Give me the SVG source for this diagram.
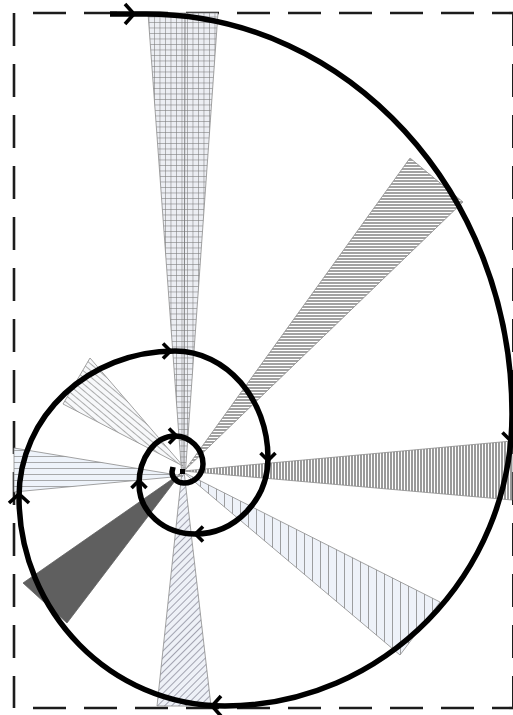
<svg xmlns="http://www.w3.org/2000/svg" width="513" height="715" viewBox="0 0 513 715">
<style>
.frame{fill:none;stroke:#1c1c1c;stroke-width:2.6;stroke-dasharray:33 18}
.edge{stroke:#8c8c8c;stroke-width:0.8;stroke-linejoin:miter}
.spiral{fill:none;stroke:#000;stroke-width:5.5;stroke-linecap:butt;stroke-linejoin:round}
.arr{fill:none;stroke:#000;stroke-width:3.6;stroke-linejoin:miter;stroke-linecap:butt}
</style>
<defs>
<pattern id="grid" width="5.5" height="5.5" patternUnits="userSpaceOnUse">
<rect width="5.5" height="5.5" fill="#eceef3"/>
<path d="M0 0.3H5.5M0.3 0V5.5" stroke="#777" stroke-width="0.65"/>
</pattern>
<pattern id="hstripe" width="6" height="3" patternUnits="userSpaceOnUse">
<rect width="6" height="3" fill="#ffffff"/>
<rect width="6" height="2" fill="#a2a2a2"/>
</pattern>
<pattern id="vstripe" width="3" height="6" patternUnits="userSpaceOnUse">
<rect width="3" height="6" fill="#ffffff"/>
<rect width="2" height="6" fill="#9a9a9a"/>
</pattern>
<pattern id="vline" width="8" height="8" patternUnits="userSpaceOnUse">
<rect width="8" height="8" fill="#eef2f9"/>
<path d="M0.4 0V8" stroke="#7a7a7a" stroke-width="0.8"/>
</pattern>
<pattern id="hline" width="8" height="6" patternUnits="userSpaceOnUse">
<rect width="8" height="6" fill="#eef3fa"/>
<path d="M0 0.4H8" stroke="#8a8a8a" stroke-width="0.8"/>
</pattern>
<pattern id="diag" width="5" height="5" patternUnits="userSpaceOnUse" patternTransform="rotate(-45)">
<rect width="5" height="5" fill="#eef1f7"/>
<path d="M0 0.4H5" stroke="#7e7e8e" stroke-width="0.75"/>
</pattern>
<pattern id="diag2" width="5" height="5" patternUnits="userSpaceOnUse" patternTransform="rotate(40)">
<rect width="5" height="5" fill="#f7f8fa"/>
<path d="M0 0.4H5" stroke="#858585" stroke-width="0.75"/>
</pattern>
<path id="chev" d="M-8,-10 L1,0 L-8,10"/>
<path id="chevS" d="M-7,-7.5 L0.5,0 L-7,7.5"/>
</defs>

<g id="frame">
<path class="frame" d="M33,13 H513"/>
<path class="frame" d="M33,708 H513"/>
<path class="frame" d="M14,13 V708"/>
<path class="frame" d="M513.3,13 V708"/>
</g>

<g id="wedges">
<g id="wedge-top"><polygon class="edge" fill="url(#grid)" points="148,13 218,13 185.5,471 181.5,471"/><line x1="185" y1="13" x2="184" y2="471" stroke="#777" stroke-width="0.9"/></g>
<g id="wedge-upper-right"><polygon class="edge" fill="url(#hstripe)" points="410,158 463,202 185,470"/></g>
<g id="wedge-right"><polygon class="edge" fill="url(#vstripe)" points="512,441 512,500 183,471"/></g>
<g id="wedge-lower-right"><polygon class="edge" fill="url(#vline)" points="440,602 400,655 183,472"/></g>
<g id="wedge-bottom"><polygon class="edge" fill="url(#diag)" points="157,706 211,706 184,471 182,471"/></g>
<g id="wedge-lower-left"><polygon fill="#5f5f5f" stroke="#5f5f5f" stroke-width="0.8" points="23,583 67,623 181,473"/></g>
<g id="wedge-left"><polygon class="edge" fill="url(#hline)" points="14,448 14,492 183,476"/></g>
<g id="wedge-upper-left"><polygon class="edge" fill="url(#diag2)" points="90,358 63,404 183,466"/></g>
</g>

<g id="center"><rect x="180" y="469" width="5" height="5" fill="#000"/></g>

<g id="connectors">
<path class="spiral" d="M110,14 L146,14 C348,14 512,193 512,414 C512,575 383,706 225,706 C111,706 19,612 19,497 C19,416 89,351 175,351 C226,351 268,399 268,458 C268,500 235,534 195,534 C164,534 139,512 139,484 C139,458 155,436 175,436 C190,436 203,449 203,464 C203,474.5 194.5,483 184,483 C177,483 172,478 172,472 L173,467"/>
<use href="#chev" class="arr" transform="translate(133,14)"/>
<use href="#chev" class="arr" transform="translate(512,441) rotate(93)"/>
<use href="#chev" class="arr" transform="translate(213,706) rotate(180)"/>
<use href="#chev" class="arr" transform="translate(19,495) rotate(-90)"/>
<use href="#chevS" class="arr" transform="translate(170,351)"/>
<use href="#chevS" class="arr" transform="translate(268,460) rotate(90)"/>
<use href="#chevS" class="arr" transform="translate(196,534) rotate(180)"/>
<use href="#chevS" class="arr" transform="translate(139,481) rotate(-90)"/>
<use href="#chevS" class="arr" transform="translate(176,436)"/>
</g>
</svg>
